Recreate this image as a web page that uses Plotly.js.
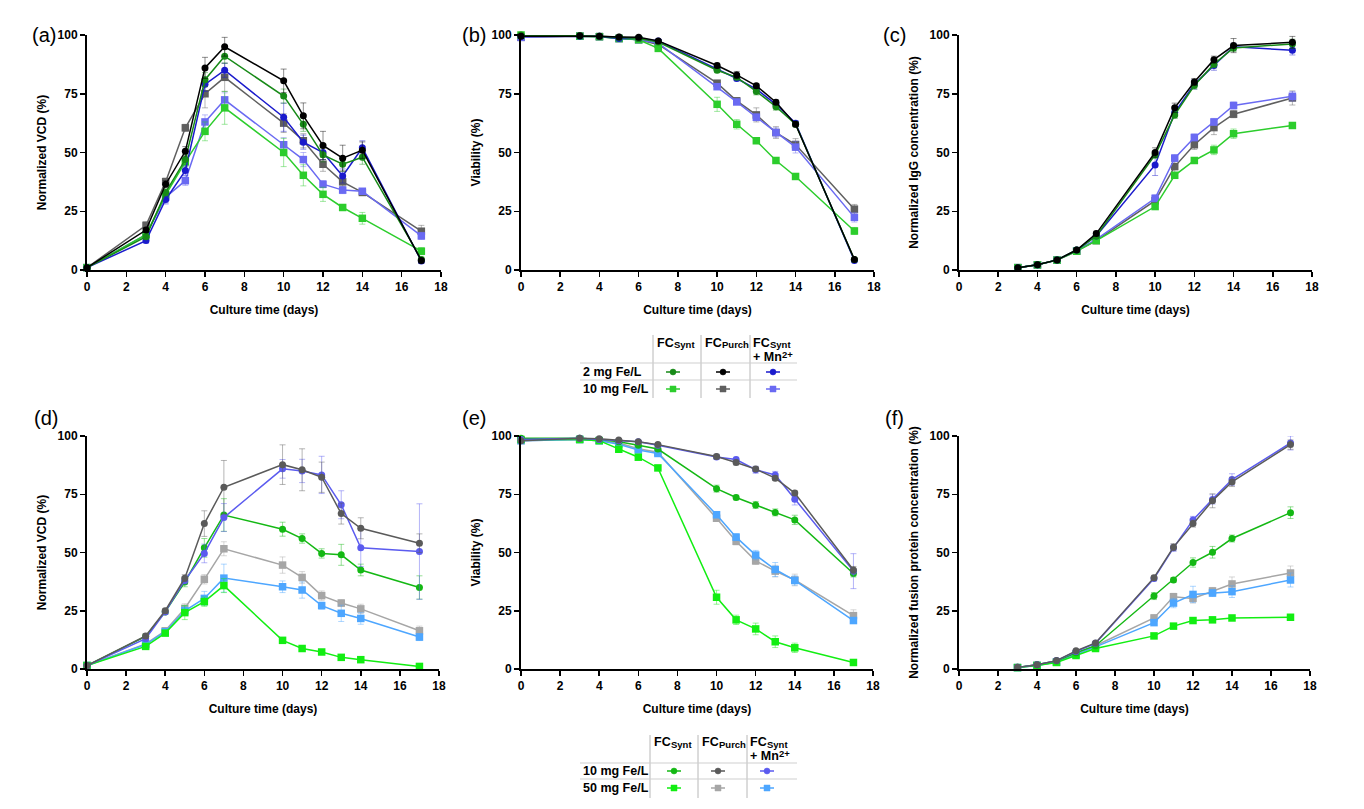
<!DOCTYPE html>
<html><head><meta charset="utf-8">
<script src="https://cdn.plot.ly/plotly-3.0.1.min.js"></script>
<style>html,body{margin:0;padding:0;background:#fff}</style>
</head><body><div id="chart" style="width:1364px;height:809px"></div>
<script>
// ---------- DATA ----------
const days = [0,3,4,5,6,7,10,11,12,13,14,17];
const titerDays = [3,4,5,6,7,10,11,12,13,14,17];
const xTicks = [0,2,4,6,8,10,12,14,16,18];
const yTicks = [0,25,50,75,100];

const topNames = ['FCSynt 2 mg Fe/L','FCPurch 2 mg Fe/L','FCSynt + Mn2+ 2 mg Fe/L','FCSynt 10 mg Fe/L','FCPurch 10 mg Fe/L','FCSynt + Mn2+ 10 mg Fe/L'];
const botNames = ['FCSynt 10 mg Fe/L','FCPurch 10 mg Fe/L','FCSynt + Mn2+ 10 mg Fe/L','FCSynt 50 mg Fe/L','FCPurch 50 mg Fe/L','FCSynt + Mn2+ 50 mg Fe/L'];
const topRows = ['2 mg Fe/L','10 mg Fe/L'];
const botRows = ['10 mg Fe/L','50 mg Fe/L'];

// (a) Normalized VCD, 2 and 10 mg Fe/L
const vcdA_synt2  = [1,14.2,33,47,81,91,74,62,49,45,48,4.5];
const vcdA_purch2 = [1,17,36.5,50.5,86,95,80.5,65.6,53,47.6,51,4];
const vcdA_mn2    = [1,12.5,30,42.3,79,85,65,54.4,50,40,52,3.8];
const vcdA_synt10 = [1,15,32,46,59,69,50,40.3,32.2,26.6,22,8];
const vcdA_purch10= [1,19,37.6,60.5,75,82,62.5,55,45,37.5,33,16.5];
const vcdA_mn10   = [1,15,31,38,63,72.4,53.3,47,36.5,34,33.5,14.5];
const vcdA_synt2_err  = [0.5,1,1.5,2,3,3,3,3,3,3,3,1];
const vcdA_purch2_err = [0.5,1,1.5,2,4.5,4,5,5.5,6,5.5,3.5,1];
const vcdA_mn2_err    = [0.5,1,1.5,2,3,3,6,3,3,3,3,1];
const vcdA_synt10_err = [0.5,1,2,2,4,7,6,4.5,3,1,2.5,1.5];
const vcdA_purch10_err= [0.5,1.5,1.5,1.5,6,6,4,3,3,2,1,2.5];
const vcdA_mn10_err   = [0.5,1,3,2,3,3,3,3,1.5,1.5,1,1.5];

// (b) Viability
const viaB_synt2  = [100,99.7,99.5,99,98.5,97,85,82,76,69.5,62,4.5];
const viaB_purch2 = [99.5,99.7,99.5,99.2,99,97.5,87,83,78.4,71.4,62,4.5];
const viaB_mn2    = [99.5,99.5,99.5,98.5,98.5,97.5,85.5,81.5,77,70.5,62.5,4];
const viaB_synt10 = [100,99.5,99.3,98.5,98,94.3,70.5,62,55,46.6,39.8,16.6];
const viaB_purch10= [99,99.5,99.3,98.5,98,96,79.5,72,66,58.5,53.4,25.9];
const viaB_mn10   = [99,99.5,99.3,98.5,98,96.5,78,71.5,65,58.5,52.3,22.4];
const viaB_synt2_err  = [0.3,0.3,0.3,0.5,0.5,0.5,1,1,1.5,1.5,1,0.5];
const viaB_purch2_err = [0.3,0.3,0.3,0.5,0.5,0.5,1,1.5,1,1,1,0.5];
const viaB_mn2_err    = [0.3,0.3,0.3,0.5,0.5,0.5,1,1,1,1,1,0.5];
const viaB_synt10_err = [0.3,0.3,0.3,0.5,0.5,1,3,2,1,1,1,1.5];
const viaB_purch10_err= [0.3,0.3,0.3,0.5,0.5,0.5,1,1,3,2.5,2.5,2];
const viaB_mn10_err   = [0.3,0.3,0.3,0.5,0.5,0.5,1,1,1.5,2,2.5,2];

// (c) Normalized IgG concentration
const igC_synt2  = [1,2.2,4.3,8.5,14.5,49,66,78.5,87.6,94.5,96.2];
const igC_purch2 = [1,2.2,4.3,8.5,15.5,50,69,80,89.5,95.5,96.9];
const igC_mn2    = [1,2.2,4.3,8.5,14.5,44.7,67,79,87,95,93.5];
const igC_synt10 = [1,2.2,4.2,8,12.5,27,40.3,46.6,51.1,58,61.5];
const igC_purch10= [1,2.2,4.2,8,12.5,29.5,44,53.3,60.6,66.3,73.2];
const igC_mn10   = [1,2.2,4.2,8.2,13,30.5,47.6,56.4,63,70,73.9];
const igC_synt2_err  = [0.2,0.3,0.5,0.5,1,1.5,1.5,1.5,1.5,1.5,2];
const igC_purch2_err = [0.2,0.3,0.5,0.5,1,2,2,1.5,1.5,3,2.5];
const igC_mn2_err    = [0.2,0.3,0.5,0.5,1,4.5,1.5,2,2,1.5,2];
const igC_synt10_err = [0.2,0.3,0.5,0.5,1,1,1,1,2,2,1];
const igC_purch10_err= [0.2,0.3,0.5,0.5,1,1.5,2.5,2,3,1.5,3];
const igC_mn10_err   = [0.2,0.3,0.5,0.5,1,1.5,1.5,1.5,1.5,1.5,2];

// (d) Normalized VCD, 10 and 50 mg Fe/L
const vcdD_synt10 = [1.5,14,24.5,37.3,52,66.1,60,56,49.6,49,42.5,35];
const vcdD_purch10= [1.5,14.2,25,39,62.4,78,87.7,85.5,82.3,66.7,60.4,54];
const vcdD_mn10   = [1.5,13,24.5,38,49.6,65,85.9,85,83.3,70.5,52,50.4];
const vcdD_synt50 = [1.5,9.7,15.4,24.2,28.9,35.8,12.3,8.8,7.3,5,4,1.1];
const vcdD_purch50= [1.5,10.8,16.4,26,38.5,51.6,44.6,39.3,31.5,28.3,25.8,16.4];
const vcdD_mn50   = [1.5,10.5,16,25,30.3,39,35.3,33.9,27.2,23.9,21.7,13.7];
const vcdD_synt10_err = [0.5,1,1,2,4,7,3,2,2,4.5,2.5,5];
const vcdD_purch10_err= [0.5,1,1,1.5,5.5,11.5,8.5,9,6.5,4.5,4.5,4];
const vcdD_mn10_err   = [0.5,1,1,1.5,4,6,4,5,8,6,8,20.5];
const vcdD_synt50_err = [0.5,1,1,3,2,3,1,1,0.8,0.8,0.5,0.3];
const vcdD_purch50_err= [0.5,1,1,2,2,3,3.5,2.5,2,1.5,2,2];
const vcdD_mn50_err   = [0.5,1,1,2,3,6,2.5,3.5,1.5,3.5,2.5,1.5];

// (e) Viability
const viaE_synt10 = [99,99,98.5,97.5,96,94.4,77.4,73.6,70.4,67.2,64,41];
const viaE_purch10= [98,99,98.8,98.3,97.5,96.3,91.2,88.6,85.8,81.9,75.5,42.5];
const viaE_mn10   = [98.5,99,98.5,98,97.5,96,91,89.9,85.5,83.3,72.9,42];
const viaE_synt50 = [98.5,98.5,98,94.3,90.9,86.3,30.8,21.1,17.2,11.7,9.1,2.8];
const viaE_purch50= [98,98.5,98,97,94.5,93,64.7,54.8,46.4,42,38.2,22.9];
const viaE_mn50   = [98,98.5,98,96.5,94,92.5,66.2,56.6,48.9,42.7,38,20.8];
const viaE_synt10_err = [0.3,0.3,0.3,0.5,0.5,0.5,1.5,1,1.5,1.5,2,1.5];
const viaE_purch10_err= [0.3,0.3,0.3,0.5,0.5,0.5,1,1,1,1,1,1.5];
const viaE_mn10_err   = [0.3,0.3,0.3,0.5,0.5,0.5,1,1,1.5,1.5,2.5,7.5];
const viaE_synt50_err = [0.3,0.3,0.5,1,1,1,3,2,2.5,2.5,2,0.5];
const viaE_purch50_err= [0.3,0.3,0.3,0.5,0.5,0.5,1,1.5,1.5,2.5,2.5,2.5];
const viaE_mn50_err   = [0.3,0.3,0.3,0.5,0.5,0.5,1,1.5,2,3,2,1];

// (f) Normalized fusion protein concentration
const fpF_synt10 = [0.7,1.8,3.4,7,10,31.3,38.2,45.7,50.1,56,67.1];
const fpF_purch10= [0.7,1.8,3.6,7.8,11.2,39.2,52.3,62.4,72.2,80.3,96.3];
const fpF_mn10   = [0.7,1.8,3.6,7.5,11,38.8,52,64,72.8,81.3,97];
const fpF_synt50 = [0.6,1.5,2.8,5.8,8.8,14.2,18.4,20.8,21.1,21.9,22.2];
const fpF_purch50= [0.6,1.6,3,6.5,10,21.9,31,30.3,33.5,36.5,41.2];
const fpF_mn50   = [0.6,1.5,3,6.2,9.5,19.9,28.3,32,32.6,33.2,38.2];
const fpF_synt10_err = [0.2,0.3,0.4,0.5,0.5,1.5,1,2,2.5,1.5,2.5];
const fpF_purch10_err= [0.2,0.3,0.4,0.5,0.5,1,1.5,1.5,3,2,2];
const fpF_mn10_err   = [0.2,0.3,0.4,0.5,0.5,1,1.5,1.5,2,2.5,3];
const fpF_synt50_err = [0.2,0.3,0.4,0.5,0.5,0.8,1,1,1,1,1];
const fpF_purch50_err= [0.2,0.3,0.4,0.5,0.5,1.5,1.5,2,1.5,3,3];
const fpF_mn50_err   = [0.2,0.3,0.4,0.5,0.5,1,2,3.5,1.5,2.5,3];

// ---------- STYLE ----------
const W = 1364, H = 809;
const FONT = 'Liberation Sans, Arial, Helvetica, sans-serif';
const topColors = ['#178a17','#000000','#1a1acc','#2ccd2c','#5f5f5f','#6a6af2'];
const botColors = ['#14b814','#5a5a5a','#5b5bef','#12ee12','#a6a6a6','#4da6ff'];
const symbolsBy = ['circle','circle','circle','square','square','square'];

function rgba(hex, a){
  const n = parseInt(hex.slice(1),16);
  return 'rgba('+((n>>16)&255)+','+((n>>8)&255)+','+(n&255)+','+a+')';
}

const traces = [];
function addPanel(k, x, series, errs, colors, names, order){
  order.forEach(i => {
    traces.push({
      type:'scatter', mode:'lines+markers', x:x, y:series[i],
      name:names[i], xaxis:'x'+(k===1?'':k), yaxis:'y'+(k===1?'':k),
      line:{color:colors[i], width:1.5},
      marker:{color:colors[i], symbol:symbolsBy[i], size:i<3?7:7.5},
      error_y:{type:'data', array:errs[i], visible:true, color:rgba(colors[i],0.45), thickness:1, width:3},
      cliponaxis:false, showlegend:false,
      hovertemplate:names[i]+'<br>Day %{x}: %{y}<extra></extra>'
    });
  });
}
const topOrder = [4,5,3,2,0,1];
const botOrder = [4,5,3,0,2,1];
addPanel(1, days, [vcdA_synt2,vcdA_purch2,vcdA_mn2,vcdA_synt10,vcdA_purch10,vcdA_mn10],
  [vcdA_synt2_err,vcdA_purch2_err,vcdA_mn2_err,vcdA_synt10_err,vcdA_purch10_err,vcdA_mn10_err], topColors, topNames, topOrder);
addPanel(2, days, [viaB_synt2,viaB_purch2,viaB_mn2,viaB_synt10,viaB_purch10,viaB_mn10],
  [viaB_synt2_err,viaB_purch2_err,viaB_mn2_err,viaB_synt10_err,viaB_purch10_err,viaB_mn10_err], topColors, topNames, topOrder);
addPanel(3, titerDays, [igC_synt2,igC_purch2,igC_mn2,igC_synt10,igC_purch10,igC_mn10],
  [igC_synt2_err,igC_purch2_err,igC_mn2_err,igC_synt10_err,igC_purch10_err,igC_mn10_err], topColors, topNames, topOrder);
addPanel(4, days, [vcdD_synt10,vcdD_purch10,vcdD_mn10,vcdD_synt50,vcdD_purch50,vcdD_mn50],
  [vcdD_synt10_err,vcdD_purch10_err,vcdD_mn10_err,vcdD_synt50_err,vcdD_purch50_err,vcdD_mn50_err], botColors, botNames, botOrder);
addPanel(5, days, [viaE_synt10,viaE_purch10,viaE_mn10,viaE_synt50,viaE_purch50,viaE_mn50],
  [viaE_synt10_err,viaE_purch10_err,viaE_mn10_err,viaE_synt50_err,viaE_purch50_err,viaE_mn50_err], botColors, botNames, botOrder);
addPanel(6, titerDays, [fpF_synt10,fpF_purch10,fpF_mn10,fpF_synt50,fpF_purch50,fpF_mn50],
  [fpF_synt10_err,fpF_purch10_err,fpF_mn10_err,fpF_synt50_err,fpF_purch50_err,fpF_mn50_err], botColors, botNames, botOrder);

// ---------- LAYOUT ----------
const px = v => v / W;
const py = v => 1 - v / H;
const tickFont = {family:FONT, size:12, color:'#000', weight:'bold'};
const titleFont = {family:FONT, size:12, color:'#000', weight:'bold'};

function xAx(l, r, anchor){
  return {domain:[px(l),px(r)], anchor:anchor, range:[0,18], tickvals:xTicks, ticktext:xTicks.map(String),
    ticks:'outside', ticklen:5, tickwidth:1.5, tickcolor:'#000', linecolor:'#000', linewidth:2,
    showgrid:false, zeroline:false, tickfont:tickFont,
    title:{text:'Culture time (days)', font:titleFont, standoff:12}};
}
function yAx(t, b, anchor, title){
  return {domain:[py(b),py(t)], anchor:anchor, range:[0,100], tickvals:yTicks, ticktext:yTicks.map(String),
    ticks:'outside', ticklen:5, tickwidth:1.5, tickcolor:'#000', linecolor:'#000', linewidth:2,
    showgrid:false, zeroline:false, tickfont:tickFont,
    title:{text:title, font:titleFont, standoff:8}};
}

const layout = {
  width:W, height:H, margin:{l:0,r:0,t:0,b:0}, paper_bgcolor:'#fff', plot_bgcolor:'#fff',
  font:{family:FONT, color:'#000'}, showlegend:false,
  xaxis: xAx(87,441,'y'),   yaxis: yAx(35,270,'x','Normalized VCD (%)'),
  xaxis2:xAx(521,874,'y2'), yaxis2:yAx(35,270,'x2','Viability (%)'),
  xaxis3:xAx(959,1312,'y3'),yaxis3:yAx(35,270,'x3','Normalized IgG concentration (%)'),
  xaxis4:xAx(87,439,'y4'),  yaxis4:yAx(436,669,'x4','Normalized VCD (%)'),
  xaxis5:xAx(521,873,'y5'), yaxis5:yAx(436,669,'x5','Viability (%)'),
  xaxis6:xAx(959,1310,'y6'),yaxis6:yAx(436,669,'x6','Normalized fusion protein concentration (%)'),
  annotations:[], shapes:[]
};

// panel labels
[['(a)',44,35],['(b)',474,35],['(c)',894,35],['(d)',46,418],['(e)',474,418],['(f)',894,418]].forEach(p=>{
  layout.annotations.push({text:p[0], x:px(p[1]), y:py(p[2]), xref:'paper', yref:'paper',
    xanchor:'center', yanchor:'middle', showarrow:false, font:{family:FONT, size:20, color:'#000'}});
});

// legend tables (text pieces placed as separate annotations)
function txt(t, x, y, size){
  layout.annotations.push({text:t, x:px(x-2), y:py(y), xref:'paper', yref:'paper',
    xanchor:'left', yanchor:'middle', showarrow:false,
    font:{family:FONT, size:size, color:'#000', weight:'bold'}});
}
function legendTable(cfg){
  const S = layout.shapes;
  cfg.vlines.forEach(x => S.push({type:'line', xref:'paper', yref:'paper', x0:px(x), x1:px(x),
    y0:py(cfg.top), y1:py(cfg.bottom), line:{color:'#b8b8b8', width:1}}));
  cfg.hlines.forEach(y => S.push({type:'line', xref:'paper', yref:'paper', x0:px(cfg.left), x1:px(cfg.right),
    y0:py(y), y1:py(y), line:{color:'#cfcfcf', width:1}}));
  const v = cfg.vlines, hy = cfg.hdrY;
  // headers: FC + small subscript, on the same baseline
  txt('FC', v[0]+4, hy, 12.5);  txt('Synt', v[0]+21, hy+2, 9.5);
  txt('FC', v[1]+4, hy, 12.5);  txt('Purch', v[1]+21, hy+2, 9.5);
  txt('FC', v[2]+3, hy, 12.5);  txt('Synt', v[2]+20, hy+2, 9.5);
  txt('+ Mn', v[2]+3, hy+14, 12.5); txt('2+', v[2]+32, hy+11, 9.5);
  cfg.rows.forEach((r,ri)=>{
    txt(r, cfg.left+3, cfg.rowY[ri], 12.5);
    cfg.markX.forEach((mx,ci)=>{
      const col = cfg.colors[ri*3+ci], yy = cfg.rowY[ri];
      S.push({type:'line', xref:'paper', yref:'paper', x0:px(mx-7), x1:px(mx+7), y0:py(yy), y1:py(yy),
        line:{color:col, width:1.5}});
      S.push({type: ri===0?'circle':'rect', xref:'paper', yref:'paper', x0:px(mx-3), x1:px(mx+3),
        y0:py(yy+3), y1:py(yy-3), fillcolor:col, line:{color:col, width:0.5}});
    });
  });
}
legendTable({vlines:[653,701,750], top:335, bottom:398, hlines:[363,380], left:580, right:797,
  hdrY:343, rows:topRows, rowY:[372,389], markX:[673,723,773], colors:topColors});
legendTable({vlines:[650,698,747], top:735, bottom:798, hlines:[763,779], left:580, right:797,
  hdrY:742, rows:botRows, rowY:[771,788], markX:[674,718,767], colors:botColors});

Plotly.newPlot('chart', traces, layout, {staticPlot:true, displayModeBar:false});
</script></body></html>
